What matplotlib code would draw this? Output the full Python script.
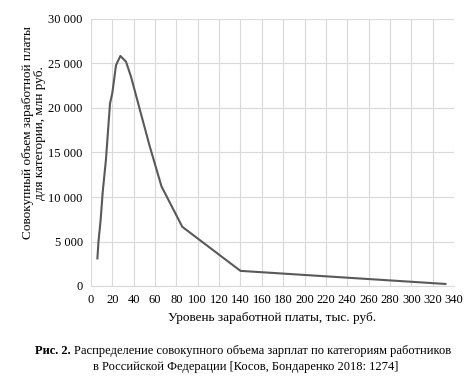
import matplotlib
matplotlib.use("Agg")
import matplotlib.pyplot as plt
from matplotlib.ticker import FuncFormatter

# wage level, thousand rub. / total wage volume, mln rub.
wage = [6, 7, 9, 11, 14, 17.8, 20, 23.4, 27.5, 32.8, 37.5, 55, 66, 85.5, 140, 332]
volume = [3100, 5000, 7400, 10600, 14200, 20500, 21700, 24800, 25850, 25200,
          23500, 15700, 11200, 6650, 1700, 230]

xticks = list(range(0, 341, 20))
yticks = list(range(0, 30001, 5000))

plt.rcParams['font.family'] = ['Liberation Serif', 'DejaVu Serif']

W, H = 475, 383
fig = plt.figure(figsize=(4.75, 3.83), dpi=100)
ax = fig.add_axes([91 / W, 97 / H, 363 / W, 267 / H])

ax.plot(wage, volume, color='#595959', linewidth=1.5)

ax.set_xlim(0, 340)
ax.set_ylim(0, 30000)
ax.set_xticks(xticks)
ax.set_yticks(yticks)
ax.yaxis.set_major_formatter(FuncFormatter(lambda v, p: f"{int(v):,}".replace(",", " ")))
ax.tick_params(length=0, labelsize=9, pad=6)
ax.grid(True, color='#d9d9d9', linewidth=0.8)
ax.set_axisbelow(True)
for s in ['top', 'right', 'left']:
    ax.spines[s].set_visible(False)
ax.spines['bottom'].set_color('#d9d9d9')

ax.set_xlabel("Уровень заработной платы, тыс. руб.", fontsize=9.5, labelpad=4)
fig.text(34 / W, 1 - 133 / H, "Совокупный объем заработной платы\nдля категории, млн руб.",
         fontsize=9.5, rotation=90, ha='center', va='center', linespacing=1.0,
         multialignment='center')

# caption with bold prefix
fig.canvas.draw()
r = fig.canvas.get_renderer()
t1 = fig.text(35 / W, 1 - 351 / H, "Рис. 2.", fontsize=9, fontweight='bold',
              ha='left', va='center')
bb = t1.get_window_extent(r)
fig.text((bb.x1 + 3) / W, 1 - 351 / H,
         "Распределение совокупного объема зарплат по категориям работников",
         fontsize=9, ha='left', va='center')
fig.text(246 / W, 1 - 367 / H,
         "в Российской Федерации [Косов, Бондаренко 2018: 1274]",
         fontsize=9, ha='center', va='center')

fig.savefig("out.png", dpi=100)
